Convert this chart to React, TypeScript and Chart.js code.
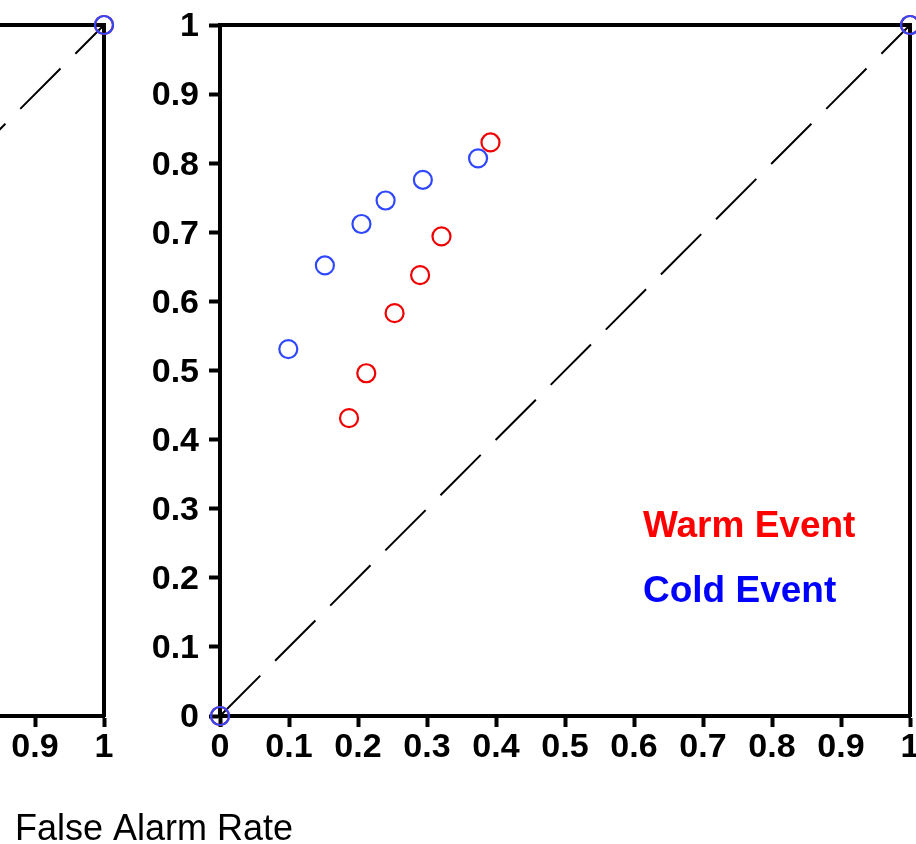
import React, { useEffect, useRef } from 'react';
import { Chart, registerables } from 'chart.js';

Chart.register(...registerables);

// ---- data ----
const TICK_VALUES = [0, 0.1, 0.2, 0.3, 0.4, 0.5, 0.6, 0.7, 0.8, 0.9, 1];
const TICK_LABELS = ['0', '0.1', '0.2', '0.3', '0.4', '0.5', '0.6', '0.7', '0.8', '0.9', '1'];

const SERIES_NAMES = ['Warm Event', 'Cold Event'];
const SERIES_COLORS = ['#f00000', '#2f48ff'];
const LABEL_COLORS = ['#ff0000', '#0000ff'];

const warmFAR = [0, 0.187, 0.212, 0.253, 0.29, 0.321, 0.392, 1];
const warmHR = [0, 0.431, 0.496, 0.583, 0.638, 0.694, 0.83, 1];
const coldFAR = [0, 0.099, 0.152, 0.205, 0.24, 0.294, 0.374, 1];
const coldHR = [0, 0.531, 0.652, 0.712, 0.746, 0.776, 0.807, 1];

// previous (clipped) panel on the left: only its corner points are visible
const leftWarmFAR = [0, 1];
const leftWarmHR = [0, 1];
const leftColdFAR = [0, 1];
const leftColdHR = [0, 1];

const refLineX = [0, 1];
const refLineY = [0, 1];

const X_TITLE = 'False Alarm Rate';
// legend label anchor, in axis units
const LEGEND_X = 0.613;
const LEGEND_Y = [0.259, 0.165];

const zip = (xs: number[], ys: number[]) => xs.map((x, i) => ({ x, y: ys[i] }));

const tickFont = { family: '"Liberation Sans", Arial, sans-serif', size: 34, weight: 'bold' as const, lineHeight: 1 };

function makeScales() {
  const setTicks = (s: any) => {
    s.ticks = TICK_VALUES.map((v) => ({ value: v }));
  };
  const label = (v: any) => {
    const i = TICK_VALUES.findIndex((t) => Math.abs(t - Number(v)) < 1e-9);
    return i >= 0 ? TICK_LABELS[i] : '';
  };
  return {
    x: {
      type: 'linear',
      position: 'bottom',
      min: 0,
      max: 1,
      afterBuildTicks: setTicks,
      ticks: { callback: label, font: tickFont, color: '#000', padding: 4, maxRotation: 0, autoSkip: false },
      grid: { drawOnChartArea: false, drawTicks: true, tickLength: 11, tickWidth: 4, tickColor: '#000' },
      border: { display: true, color: '#000', width: 4 },
      afterFit: (s: any) => {
        s.height = 128;
        s.paddingLeft = 0;
        s.paddingRight = 0;
      },
    },
    y: {
      type: 'linear',
      position: 'left',
      min: 0,
      max: 1,
      afterBuildTicks: setTicks,
      ticks: { callback: label, font: tickFont, color: '#000', padding: 10, labelOffset: 2, autoSkip: false },
      grid: { drawOnChartArea: false, drawTicks: true, tickLength: 11, tickWidth: 4, tickColor: '#000' },
      border: { display: true, color: '#000', width: 4 },
      afterFit: (s: any) => {
        s.width = 220;
        s.paddingTop = 0;
        s.paddingBottom = 0;
      },
    },
    x2: {
      type: 'linear',
      position: 'top',
      min: 0,
      max: 1,
      ticks: { display: false },
      grid: { drawOnChartArea: false, drawTicks: false },
      border: { display: true, color: '#000', width: 4 },
      afterFit: (s: any) => {
        s.height = 0;
        s.paddingLeft = 0;
        s.paddingRight = 0;
      },
    },
    y2: {
      type: 'linear',
      position: 'right',
      min: 0,
      max: 1,
      ticks: { display: false },
      grid: { drawOnChartArea: false, drawTicks: false },
      border: { display: true, color: '#000', width: 4 },
      afterFit: (s: any) => {
        s.width = 0;
        s.paddingTop = 0;
        s.paddingBottom = 0;
      },
    },
  };
}

function pointSet(label: string, data: any[], color: string, order: number) {
  return {
    label,
    data,
    showLine: false,
    pointStyle: 'circle',
    pointRadius: 9,
    pointBorderWidth: 2.2,
    borderColor: color,
    backgroundColor: 'rgba(0,0,0,0)',
    pointBackgroundColor: 'rgba(0,0,0,0)',
    pointBorderColor: color,
    clip: false,
    order,
  };
}

function refSet() {
  return {
    label: 'reference',
    data: zip(refLineX, refLineY),
    showLine: true,
    borderColor: '#000',
    borderWidth: 2,
    borderDash: [57, 21],
    pointRadius: 0,
    fill: false,
    clip: false,
    order: 5,
  };
}

const overlayPlugin = {
  id: 'overlayText',
  afterDatasetsDraw(chart: any, _args: any, opts: any) {
    const { ctx, scales } = chart;
    ctx.save();
    if (opts.legend) {
      ctx.font = 'bold 37px "Liberation Sans", Arial, sans-serif';
      ctx.textAlign = 'left';
      ctx.textBaseline = 'alphabetic';
      SERIES_NAMES.forEach((name, i) => {
        ctx.fillStyle = LABEL_COLORS[i];
        ctx.fillText(name, scales.x.getPixelForValue(LEGEND_X), scales.y.getPixelForValue(LEGEND_Y[i]));
      });
    }
    if (opts.caption) {
      ctx.font = '36px "Liberation Sans", Arial, sans-serif';
      ctx.fillStyle = '#000';
      ctx.textAlign = 'left';
      ctx.textBaseline = 'alphabetic';
      ctx.fillText(X_TITLE, 15, 840);
    }
    ctx.restore();
  },
};

function makeConfig(datasets: any[], paddingRight: number, legend: boolean, caption: boolean): any {
  return {
    type: 'scatter',
    data: { datasets },
    plugins: [overlayPlugin],
    options: {
      responsive: false,
      animation: false,
      devicePixelRatio: 1,
      events: [],
      layout: { autoPadding: false, padding: { left: 0, top: 25, right: paddingRight, bottom: 0 } },
      scales: makeScales(),
      plugins: {
        legend: { display: false },
        tooltip: { enabled: false },
        title: { display: false },
        overlayText: { legend, caption },
      },
    },
  };
}

export default function App() {
  const leftRef = useRef<HTMLCanvasElement>(null);
  const mainRef = useRef<HTMLCanvasElement>(null);

  useEffect(() => {
    const left = new Chart(
      leftRef.current as HTMLCanvasElement,
      makeConfig(
        [
          pointSet(SERIES_NAMES[1], zip(leftColdFAR, leftColdHR), SERIES_COLORS[1], 0),
          pointSet(SERIES_NAMES[0], zip(leftWarmFAR, leftWarmHR), SERIES_COLORS[0], 1),
          refSet(),
        ],
        50,
        false,
        false
      )
    );
    const main = new Chart(
      mainRef.current as HTMLCanvasElement,
      makeConfig(
        [
          pointSet(SERIES_NAMES[1], zip(coldFAR, coldHR), SERIES_COLORS[1], 0),
          pointSet(SERIES_NAMES[0], zip(warmFAR, warmHR), SERIES_COLORS[0], 1),
          refSet(),
        ],
        6,
        true,
        true
      )
    );
    return () => {
      left.destroy();
      main.destroy();
    };
  }, []);

  return (
    <div
      style={{
        position: 'absolute',
        left: 0,
        top: 0,
        width: 916,
        height: 844,
        overflow: 'hidden',
        background: '#fff',
      }}
    >
      <canvas
        ref={leftRef}
        width={960}
        height={844}
        style={{ position: 'absolute', left: -806, top: 0, width: 960, height: 844 }}
      />
      <canvas
        ref={mainRef}
        width={916}
        height={844}
        style={{ position: 'absolute', left: 0, top: 0, width: 916, height: 844 }}
      />
    </div>
  );
}
